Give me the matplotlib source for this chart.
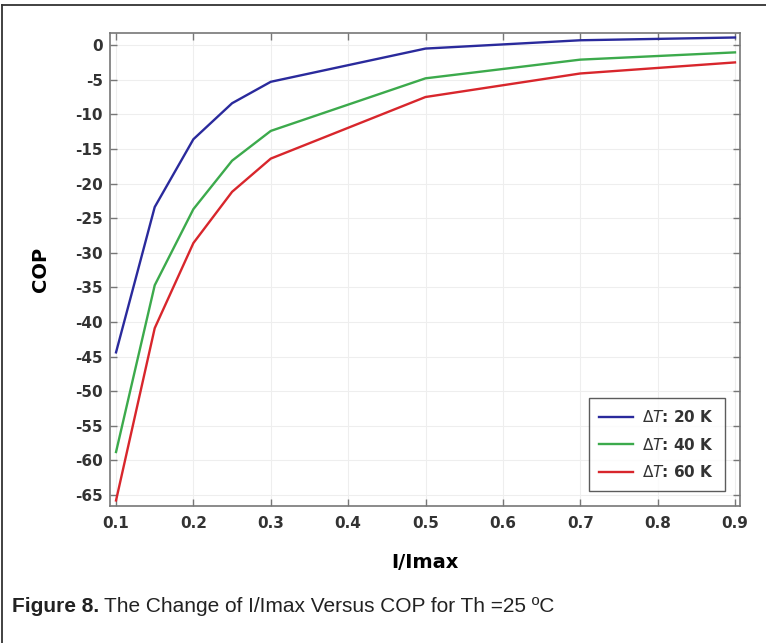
import numpy as np
import matplotlib
matplotlib.use('Agg')
import matplotlib.pyplot as plt
from matplotlib.lines import Line2D

plt.rcParams['axes.unicode_minus'] = False

# ------------------------------  DATA  -----------------------------
I_RATIO = [0.1, 0.15, 0.2, 0.25, 0.3, 0.5, 0.7, 0.9]
COP_20K = [-44.4, -23.4, -13.6, -8.4, -5.3, -0.5, 0.7, 1.1]
COP_40K = [-58.8, -34.7, -23.7, -16.7, -12.4, -4.8, -2.1, -1.05]
COP_60K = [-65.8, -40.9, -28.6, -21.2, -16.4, -7.5, -4.1, -2.5]
LABELS = [r'$\Delta T$: 20 K', r'$\Delta T$: 40 K', r'$\Delta T$: 60 K']
COLORS = ['#2a2a9c', '#3caa4c', '#d8262c']

# ------------------------------  MAIN BODY  -----------------------------
fig = plt.figure(figsize=(7.66, 6.43), dpi=100)
ax = fig.add_axes([110 / 766, 1 - 506 / 643, 630 / 766, 473 / 643])

for y, lab, c in zip([COP_20K, COP_40K, COP_60K], LABELS, COLORS):
    ax.plot(I_RATIO, y, color=c, lw=1.7, label=lab)

ax.set_xlim(0.0922, 0.9065)
ax.set_ylim(-66.6, 1.75)
ax.set_xticks(np.arange(0.1, 0.91, 0.1))
ax.set_yticks(np.arange(-65, 1, 5))
ax.set_xticklabels(['%.1f' % v for v in np.arange(0.1, 0.91, 0.1)])
ax.grid(True, color='#eeeeee', lw=0.8)
ax.tick_params(direction='in', top=True, right=True, length=5, width=1,
               color='#777777', labelsize=11, labelcolor='#333333', pad=5)
ax.tick_params(axis='x', pad=7)
for lbl in ax.get_xticklabels() + ax.get_yticklabels():
    lbl.set_fontweight('bold')
for s in ax.spines.values():
    s.set_color('#777777')
    s.set_linewidth(1.2)

ax.set_xlabel('I/Imax', fontsize=14, fontweight='bold', va='center')
ax.set_ylabel('COP', fontsize=14, fontweight='bold', va='center')
ax.xaxis.set_label_coords(0.5, -0.12)
ax.yaxis.set_label_coords(-0.111, 0.5)

leg = ax.legend(loc='lower right', fontsize=11, frameon=True, fancybox=False,
                edgecolor='#333333', borderaxespad=1.0, handlelength=2.2,
                handletextpad=0.6, labelspacing=0.75, borderpad=0.7)
leg.get_frame().set_linewidth(1.0)
for t in leg.get_texts():
    t.set_fontweight('bold')
    t.set_color('#333333')

# page frame (top and left) and caption
fig.add_artist(Line2D([0.002, 1.0], [1 - 5 / 643, 1 - 5 / 643], color='#333333', lw=1.3))
fig.add_artist(Line2D([0.002, 0.002], [0, 1 - 5 / 643], color='#333333', lw=1.3))
cap_font = ['Liberation Sans Narrow', 'Liberation Sans', 'DejaVu Sans']
t1 = fig.text(12 / 766, 1 - 612 / 643, 'Figure 8.', fontsize=15, fontweight='bold',
              family=cap_font, color='#222222', va='baseline')
fig.canvas.draw()
bb = t1.get_window_extent()
fig.text(bb.x1 / fig.bbox.width + 0.006, 1 - 612 / 643,
         'The Change of I/Imax Versus COP for Th =25 ºC', fontsize=15,
         family=cap_font, color='#222222', va='baseline')

plt.savefig('out.png', dpi=100)
print('Done!')
